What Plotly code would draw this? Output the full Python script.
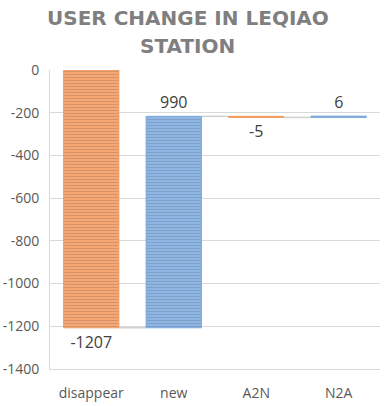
import plotly.graph_objects as go

categories = ["disappear", "new", "A2N", "N2A"]
changes = [-1207, 990, -5, 6]
y_ticks = [0, -200, -400, -600, -800, -1000, -1200, -1400]
y_tick_labels = ["0", "-200", "-400", "-600", "-800", "-1000", "-1200", "-1400"]
title_lines = ["USER CHANGE IN LEQIAO", "STATION"]

# cumulative bases
bases, ends = [], []
running = 0
for c in changes:
    bases.append(running)
    running += c
    ends.append(running)

orange_fill = "#F6A774"
orange_line = "#F39A5C"
blue_fill = "#8EB6E5"
blue_line = "#78A7DE"

fills = [orange_fill if c < 0 else blue_fill for c in changes]
lines = [orange_line if c < 0 else blue_line for c in changes]

fig = go.Figure()
fig.add_trace(go.Bar(
    x=categories,
    y=changes,
    base=bases,
    width=0.67,
    marker=dict(color=fills, line=dict(color=lines, width=1),
                pattern=dict(shape="-", fgcolor="#FFFFFF", fgopacity=0.2, size=3,
                             solidity=0.35, fillmode="overlay")),
    text=[str(c) for c in changes],
    textposition="outside",
    textfont=dict(size=16, color="#404040", family="Open Sans"),
    cliponaxis=False,
    showlegend=False,
    hoverinfo="skip",
))

shapes = []
for i in range(len(categories) - 1):
    shapes.append(dict(type="line", xref="x", yref="y",
                       x0=i + 0.335, x1=i + 1 - 0.335, y0=ends[i], y1=ends[i],
                       line=dict(color="#D0D0D0", width=1.5), layer="below"))

annotations = [
    dict(text=title_lines[0], xref="paper", yref="paper", x=0.418, y=1.174,
         xanchor="center", yanchor="middle", showarrow=False,
         font=dict(size=20, color="#7F7F7F", family="DejaVu Sans", weight="bold")),
    dict(text=title_lines[1], xref="paper", yref="paper", x=0.418, y=1.079,
         xanchor="center", yanchor="middle", showarrow=False,
         font=dict(size=20, color="#7F7F7F", family="DejaVu Sans", weight="bold")),
]

fig.update_layout(
    width=392, height=406,
    margin=dict(l=50, r=12, t=70, b=37),
    paper_bgcolor="white", plot_bgcolor="white",
    shapes=shapes,
    annotations=annotations,
    bargap=0.33,
)
fig.update_yaxes(range=[-1400, 0], tickvals=y_ticks, ticktext=y_tick_labels,
                 showgrid=True, gridcolor="#D9D9D9",
                 gridwidth=1, zeroline=False, showline=True, linecolor="#D9D9D9",
                 tickfont=dict(size=14, color="#595959", family="Open Sans"), ticks="",
                 ticklabelstandoff=7, automargin=False)
fig.update_xaxes(showline=True, linecolor="#D9D9D9", linewidth=1,
                 tickfont=dict(size=14, color="#595959", family="Open Sans"), ticks="",
                 ticklabelstandoff=11, automargin=False)

fig.write_html("out.html",
               config={"displayModeBar": False},
               post_script="document.body.style.margin='0';document.body.style.overflow='hidden';")
